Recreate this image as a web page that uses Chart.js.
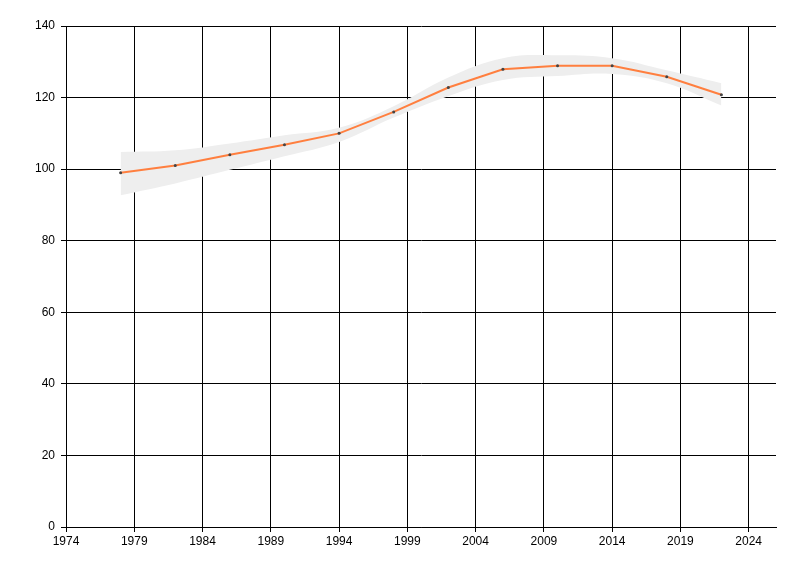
<!DOCTYPE html>
<html>
<head>
<meta charset="utf-8">
<script src="https://cdn.jsdelivr.net/npm/chart.js@4"></script>
<style>
html,body{margin:0;padding:0;background:#fff;}
#wrap{width:800px;height:576px;}
</style>
</head>
<body>
<div id="wrap"><canvas id="c" width="800" height="576"></canvas></div>
<script>
const years = [1978, 1982, 1986, 1990, 1994, 1998, 2002, 2006, 2010, 2014, 2018, 2022];
const values = [99, 101, 104, 106.8, 110, 116, 122.8, 127.9, 128.9, 128.9, 125.8, 120.8];
const upperBand = [104.8, 105.3, 107.2, 109.5, 111.6, 117.6, 125.6, 131, 131.8, 131, 127.6, 124];
const lowerBand = [92.7, 96, 99.8, 103.6, 107.6, 114.4, 120.4, 124.9, 126, 126.6, 124, 117.8];
const xTicks = [1974, 1979, 1984, 1989, 1994, 1999, 2004, 2009, 2014, 2019, 2024];
const yTicks = [0, 20, 40, 60, 80, 100, 120, 140];

const toPts = arr => years.map((y, i) => ({x: y, y: arr[i]}));

new Chart(document.getElementById('c'), {
  type: 'line',
  data: {
    datasets: [
      {
        data: toPts(upperBand),
        borderWidth: 0,
        pointRadius: 0,
        tension: 0.4,
        fill: '+1',
        backgroundColor: '#EEEEEE',
        borderColor: 'rgba(0,0,0,0)',
        order: 3
      },
      {
        data: toPts(lowerBand),
        borderWidth: 0,
        pointRadius: 0,
        tension: 0.4,
        fill: false,
        borderColor: 'rgba(0,0,0,0)',
        order: 3
      },
      {
        data: toPts(values),
        borderColor: '#FF7F3F',
        borderWidth: 2,
        tension: 0,
        fill: false,
        pointRadius: 1.5,
        pointBorderWidth: 0,
        pointBackgroundColor: '#444444',
        order: 1
      }
    ]
  },
  options: {
    responsive: false,
    animation: false,
    layout: {padding: {left: 0, top: 26, right: 24, bottom: 0}},
    plugins: {legend: {display: false}, tooltip: {enabled: false}},
    scales: {
      x: {
        type: 'linear',
        min: 1974,
        max: 2026,
        afterBuildTicks: s => { s.ticks = xTicks.map(v => ({value: v})); },
        afterFit: s => { s.height = 49; },
        ticks: {
          color: '#000',
          font: {family: 'Liberation Sans', size: 12},
          padding: 2,
          maxRotation: 0,
          autoSkip: false,
          callback: v => String(v)
        },
        grid: {color: '#000', lineWidth: 1, tickLength: 5},
        border: {color: '#000', width: 1}
      },
      y: {
        type: 'linear',
        min: 0,
        max: 140,
        afterBuildTicks: s => { s.ticks = yTicks.map(v => ({value: v})); },
        afterFit: s => { s.width = 66; },
        ticks: {
          color: '#000',
          font: {family: 'Liberation Sans', size: 12},
          padding: 6,
          autoSkip: false,
          callback: v => String(v)
        },
        grid: {color: '#000', lineWidth: 1, tickLength: 5},
        border: {color: '#000', width: 1}
      }
    }
  }
});
</script>
</body>
</html>
